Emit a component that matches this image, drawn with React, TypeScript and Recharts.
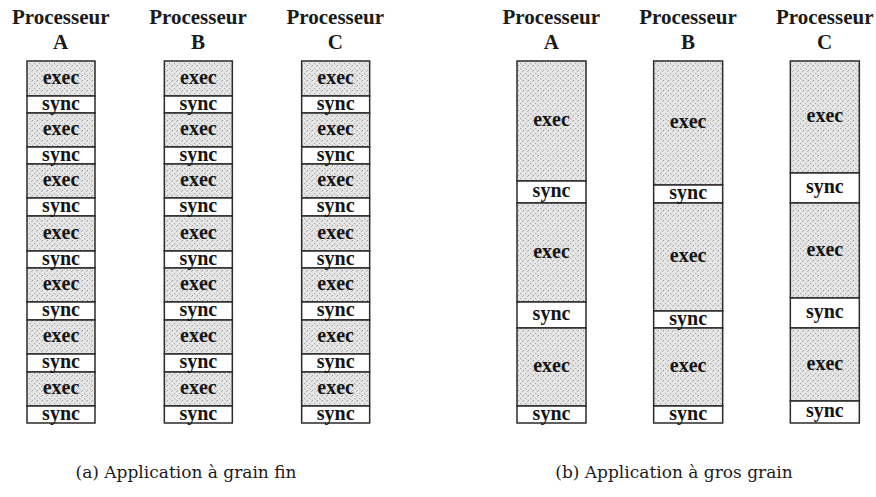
import React from 'react';
import { BarChart, Bar, XAxis, YAxis, LabelList } from 'recharts';

// processors (x categories)
const procs = ['A', 'B', 'C'];

// (a) fine grain: 7 exec/sync phases per processor (time units)
const fineExec = [
  [35, 34, 34, 35, 34, 34, 34],
  [35, 34, 34, 35, 34, 34, 34],
  [35, 34, 34, 35, 34, 34, 34],
];
const fineSync = [
  [17, 17, 18, 17, 18, 18, 17],
  [17, 17, 18, 17, 18, 18, 17],
  [17, 17, 18, 17, 18, 18, 17],
];

// (b) coarse grain: 3 exec/sync phases per processor
const coarseExec = [
  [120, 99, 78],
  [124, 108, 78],
  [112, 95, 73],
];
const coarseSync = [
  [22, 26, 17],
  [18, 17, 17],
  [30, 30, 22],
];

const totalTime = 362;

const captions = ['(a) Application à grain fin', '(b) Application à gros grain'];

const boldFont = 'Liberation Serif, DejaVu Serif, serif';
const captionFont = 'DejaVu Serif, serif';

const ProcTick = (props: any) => {
  const { x, y, payload } = props;
  return (
    <g>
      <text x={x} y={y - 37} textAnchor="middle" style={{ fontFamily: boldFont }} fontWeight={700} fontSize={21} fill="#1a1a1a">
        Processeur
      </text>
      <text x={x} y={y - 12} textAnchor="middle" style={{ fontFamily: boldFont }} fontWeight={700} fontSize={21} fill="#1a1a1a">
        {payload.value}
      </text>
    </g>
  );
};

interface PanelProps {
  id: string;
  exec: number[][];
  sync: number[][];
  left: number;
  width: number;
  barSize: number;
}

const Panel: React.FC<PanelProps> = ({ id, exec, sync, left, width, barSize }) => {
  const data = procs.map((p, i) => {
    const row: Record<string, any> = { name: p };
    exec[i].forEach((v, k) => {
      row['e' + k] = v;
      row['s' + k] = sync[i][k];
    });
    return row;
  });
  const phases = exec[0].map((_, k) => k);
  const labelStyle = { fontFamily: boldFont };

  return (
    <div style={{ position: 'absolute', left, top: 0 }}>
      <BarChart width={width} height={426} data={data} margin={{ top: 0, right: 0, bottom: 3, left: 0 }}>
        <defs>
          <pattern id={'stipple-' + id} width="5" height="5" patternUnits="userSpaceOnUse">
            <rect width="5" height="5" fill="#e6e6e6" />
            <rect x="0" y="0" width="1" height="1" fill="#9c9c9c" />
            <rect x="2" y="3" width="1" height="1" fill="#a8a8a8" />
            <rect x="4" y="1" width="1" height="1" fill="#b4b4b4" />
            <rect x="3" y="4" width="1" height="1" fill="#c8c8c8" />
          </pattern>
        </defs>
        <XAxis
          dataKey="name"
          orientation="top"
          axisLine={false}
          tickLine={false}
          tickSize={0}
          tickMargin={0}
          height={61}
          interval={0}
          tick={<ProcTick />}
        />
        <YAxis hide reversed type="number" domain={[0, totalTime]} />
        {phases.flatMap((k) => [
          <Bar
            key={'e' + k}
            dataKey={'e' + k}
            stackId="t"
            barSize={barSize}
            fill={`url(#stipple-${id})`}
            stroke="#2b2b2b"
            strokeWidth={1.5}
            isAnimationActive={false}
          >
            <LabelList
              position="center"
              formatter={() => 'exec'}
              fill="#151515"
              style={labelStyle}
              fontWeight={700}
              fontSize={20}
              dy={-2}
            />
          </Bar>,
          <Bar
            key={'s' + k}
            dataKey={'s' + k}
            stackId="t"
            barSize={barSize}
            fill="#ffffff"
            stroke="#2b2b2b"
            strokeWidth={1.5}
            isAnimationActive={false}
          >
            <LabelList
              position="center"
              formatter={() => 'sync'}
              fill="#151515"
              style={labelStyle}
              fontWeight={700}
              fontSize={20}
              dy={-2}
            />
          </Bar>,
        ])}
      </BarChart>
    </div>
  );
};

export default function App() {
  return (
    <div
      style={{
        position: 'absolute',
        left: 0,
        top: 0,
        width: 876,
        height: 497,
        overflow: 'hidden',
        background: '#ffffff',
      }}
    >
      <Panel id="fine" exec={fineExec} sync={fineSync} left={-8} width={412} barSize={68} />
      <Panel id="coarse" exec={coarseExec} sync={coarseSync} left={483} width={410} barSize={69} />
      {captions.map((c, i) => (
        <div
          key={c}
          style={{
            position: 'absolute',
            top: 462,
            left: i === 0 ? 36 : 524,
            width: 300,
            textAlign: 'center',
            fontFamily: captionFont,
            fontSize: 17,
            color: '#1a1a1a',
          }}
        >
          {c}
        </div>
      ))}
    </div>
  );
}
